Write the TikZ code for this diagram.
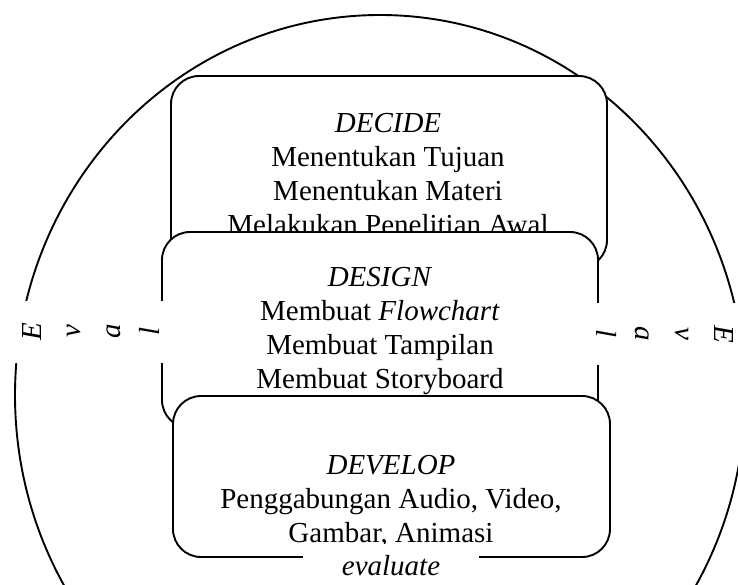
\documentclass[tikz,border=0pt]{standalone}
\usepackage{fontspec}
\setmainfont{Liberation Serif}
\usepackage{tikz}
\usetikzlibrary{calc, positioning}
\tikzstyle{stage}=[draw, fill=white, rounded corners=14pt, line width=0.95pt, inner sep=0pt]
\tikzstyle{txt}=[align=center, inner sep=0pt, font=\fontsize{14.5}{17}\selectfont]
\tikzstyle{evl}=[fill=white, align=center, inner sep=0pt, font=\fontsize{14.5}{19.75}\selectfont\itshape]

\begin{document}
\begin{tikzpicture}[x=0.5pt, y=-0.5pt]
\clip (0,0) rectangle (738,584);
\draw[line width=0.95pt] (380,395) ellipse [x radius=182.5pt, y radius=190pt];
%
\node[stage, minimum width=218pt, minimum height=96pt] (decide) at (389,172) {};
\node[txt] (decidetxt) at (388,174) {\textit{DECIDE}\\Menentukan Tujuan\\Menentukan Materi\\Melakukan Penelitian Awal};
\node[stage, minimum width=218pt, minimum height=98pt] (design) at (380,330) {};
\node[txt] (designtxt) at (380,331) {\textit{DESIGN}\\Membuat \textit{Flowchart}\\Membuat Tampilan\\Membuat Storyboard};
\node[stage, minimum width=218.5pt, minimum height=80.5pt] (develop) at (391.5,476.5) {};
\node[txt] (developtxt) at (391,501) {\textit{DEVELOP}\\Penggabungan Audio, Video,\\Gambar, Animasi};
%
\node[evl, rotate=90, minimum width=31pt, minimum height=81pt] (evalleft) at (91,331.5) {E\\v\\a\\l};
\node[evl, rotate=-90, minimum width=31pt, minimum height=75pt] (evalright) at (665,334) {E\\v\\a\\l};
\node[evl, minimum width=88pt, minimum height=22pt] (evaluate) at (391,566) {evaluate};
\end{tikzpicture}
\end{document}
